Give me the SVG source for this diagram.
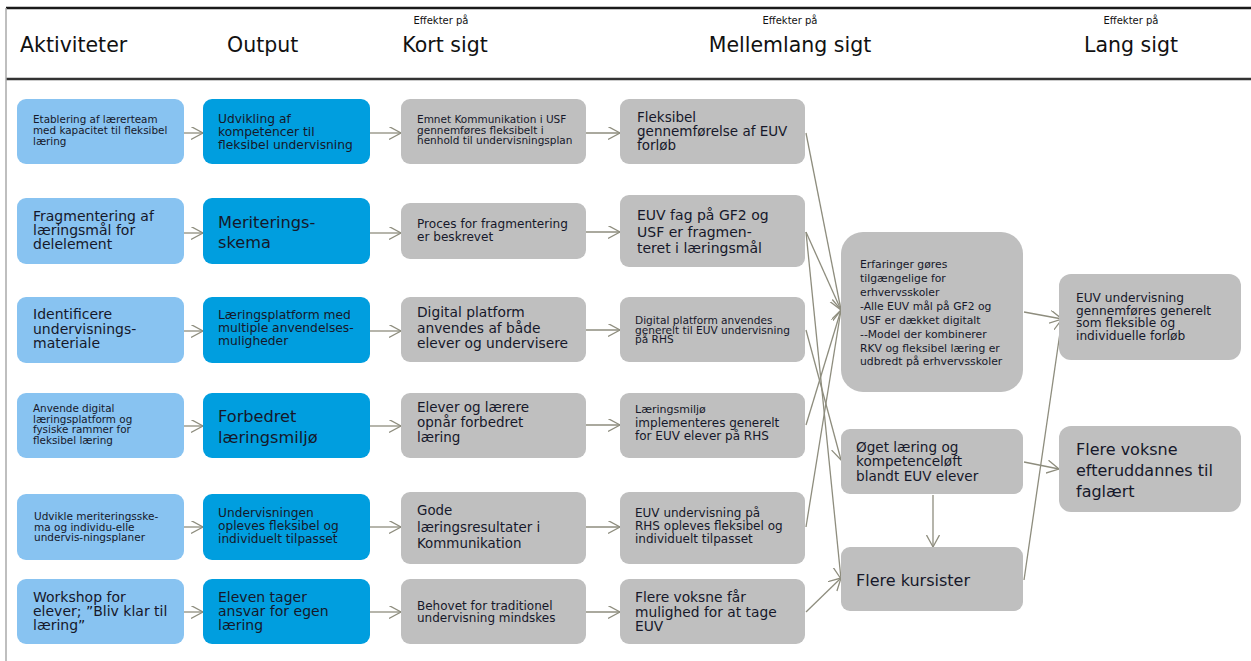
<svg xmlns="http://www.w3.org/2000/svg" width="1251" height="661" viewBox="0 0 1251 661">
<defs>
<style>
.t{font-family:"DejaVu Sans","Verdana",sans-serif;fill:#16182a}
.h{font-family:"DejaVu Sans","Verdana",sans-serif;fill:#111;font-size:20.5px}
.s{font-family:"DejaVu Sans","Verdana",sans-serif;fill:#111;font-size:10px}
.a{fill:#88c3f1}
.o{fill:#009edf}
.g{fill:#bfbfbf}
.c{fill:none;stroke:#8e8d7e;stroke-width:1.3;marker-end:url(#arr)}
</style>
<marker id="arr" markerWidth="14" markerHeight="14" refX="12" refY="6.5" orient="auto" markerUnits="userSpaceOnUse">
<path d="M0,0 L12,6.5 L0,13" fill="none" stroke="#8e8d7e" stroke-width="1.3"/>
</marker>
</defs>
<rect width="1251" height="661" fill="#fff"/>
<g id="header">
<line x1="6" y1="8" x2="1251" y2="8" stroke="#1a1a1a" stroke-width="2.5"/>
<line x1="6" y1="79" x2="1251" y2="79" stroke="#333" stroke-width="2.5"/>
<line x1="6" y1="8" x2="6" y2="661" stroke="#aaa" stroke-width="1.5"/>
<text class="h" x="20" y="52">Aktiviteter</text>
<text class="h" x="227" y="52">Output</text>
<text class="s" x="441" y="24" text-anchor="middle">Effekter på</text>
<text class="h" x="445" y="52" text-anchor="middle">Kort sigt</text>
<text class="s" x="790" y="24" text-anchor="middle">Effekter på</text>
<text class="h" x="790" y="52" text-anchor="middle">Mellemlang sigt</text>
<text class="s" x="1131" y="24" text-anchor="middle">Effekter på</text>
<text class="h" x="1131" y="52" text-anchor="middle">Lang sigt</text>
</g>
<g id="connectors">
<line class="c" x1="184" y1="133" x2="203" y2="133"/>
<line class="c" x1="184" y1="233" x2="203" y2="233"/>
<line class="c" x1="184" y1="331" x2="203" y2="331"/>
<line class="c" x1="184" y1="426" x2="203" y2="426"/>
<line class="c" x1="184" y1="527" x2="203" y2="527"/>
<line class="c" x1="184" y1="612" x2="203" y2="612"/>
<line class="c" x1="370" y1="133" x2="401" y2="133"/>
<line class="c" x1="370" y1="233" x2="401" y2="233"/>
<line class="c" x1="370" y1="331" x2="401" y2="331"/>
<line class="c" x1="370" y1="426" x2="401" y2="426"/>
<line class="c" x1="370" y1="527" x2="401" y2="527"/>
<line class="c" x1="370" y1="612" x2="401" y2="612"/>
<line class="c" x1="586" y1="133" x2="620" y2="133"/>
<line class="c" x1="586" y1="232" x2="620" y2="232"/>
<line class="c" x1="586" y1="330" x2="620" y2="330"/>
<line class="c" x1="586" y1="425" x2="620" y2="425"/>
<line class="c" x1="586" y1="527" x2="620" y2="527"/>
<line class="c" x1="586" y1="612" x2="620" y2="612"/>
<line class="c" x1="806" y1="133" x2="841" y2="310"/>
<line class="c" x1="806" y1="232" x2="841" y2="310"/>
<line class="c" x1="806" y1="232" x2="841" y2="579"/>
<line class="c" x1="806" y1="330" x2="841" y2="460"/>
<line class="c" x1="806" y1="425" x2="841" y2="310"/>
<line class="c" x1="806" y1="527" x2="841" y2="310"/>
<line class="c" x1="806" y1="612" x2="841" y2="578"/>
<line class="c" x1="1024" y1="312" x2="1062" y2="319"/>
<line class="c" x1="1024" y1="580" x2="1062" y2="319"/>
<line class="c" x1="1024" y1="462" x2="1059" y2="469"/>
<line class="c" x1="933" y1="495" x2="933" y2="547"/>
</g>
<g id="a1"><rect class="a" x="17" y="99" width="167" height="65" rx="9"/>
<text class="t" font-size="10.4"><tspan x="33" y="123">Etablering af lærerteam</tspan><tspan x="33" y="134">med kapacitet til fleksibel</tspan><tspan x="33" y="145">læring</tspan></text></g>
<g id="a2"><rect class="a" x="17" y="198" width="167" height="66" rx="9"/>
<text class="t" font-size="14"><tspan x="33" y="221">Fragmentering af</tspan><tspan x="33" y="235">læringsmål for</tspan><tspan x="33" y="249">delelement</tspan></text></g>
<g id="a3"><rect class="a" x="17" y="297" width="167" height="66" rx="9"/>
<text class="t" font-size="14"><tspan x="33" y="319">Identificere</tspan><tspan x="33" y="333.5">undervisnings-</tspan><tspan x="33" y="348">materiale</tspan></text></g>
<g id="a4"><rect class="a" x="17" y="393" width="167" height="65" rx="9"/>
<text class="t" font-size="10.4"><tspan x="33" y="412">Anvende digital</tspan><tspan x="33" y="422.5">læringsplatform og</tspan><tspan x="33" y="433">fysiske rammer for</tspan><tspan x="33" y="443.5">fleksibel læring</tspan></text></g>
<g id="a5"><rect class="a" x="17" y="494" width="167" height="66" rx="9"/>
<text class="t" font-size="10.5"><tspan x="34" y="520">Udvikle meriteringsske-</tspan><tspan x="34" y="530.5">ma og individu-elle</tspan><tspan x="34" y="541">undervis-ningsplaner</tspan></text></g>
<g id="a6"><rect class="a" x="17" y="579" width="167" height="65" rx="9"/>
<text class="t" font-size="14"><tspan x="33" y="602">Workshop for</tspan><tspan x="33" y="616">elever; ”Bliv klar til</tspan><tspan x="33" y="630">læring”</tspan></text></g>
<g id="o1"><rect class="o" x="203" y="99" width="167" height="65" rx="9"/>
<text class="t" font-size="12.3"><tspan x="218" y="123">Udvikling af</tspan><tspan x="218" y="136">kompetencer til</tspan><tspan x="218" y="149">fleksibel undervisning</tspan></text></g>
<g id="o2"><rect class="o" x="203" y="198" width="167" height="66" rx="9"/>
<text class="t" font-size="16.2"><tspan x="218" y="228">Meriterings-</tspan><tspan x="218" y="248">skema</tspan></text></g>
<g id="o3"><rect class="o" x="203" y="297" width="167" height="66" rx="9"/>
<text class="t" font-size="12.3"><tspan x="218" y="319">Læringsplatform med</tspan><tspan x="218" y="332">multiple anvendelses-</tspan><tspan x="218" y="345">muligheder</tspan></text></g>
<g id="o4"><rect class="o" x="203" y="393" width="167" height="65" rx="9"/>
<text class="t" font-size="16.2"><tspan x="218" y="422">Forbedret</tspan><tspan x="218" y="443">læringsmiljø</tspan></text></g>
<g id="o5"><rect class="o" x="203" y="494" width="167" height="66" rx="9"/>
<text class="t" font-size="12.2"><tspan x="218" y="517">Undervisningen</tspan><tspan x="218" y="530">opleves fleksibel og</tspan><tspan x="218" y="543">individuelt tilpasset</tspan></text></g>
<g id="o6"><rect class="o" x="203" y="579" width="167" height="65" rx="9"/>
<text class="t" font-size="14"><tspan x="218" y="602">Eleven tager</tspan><tspan x="218" y="616">ansvar for egen</tspan><tspan x="218" y="630">læring</tspan></text></g>
<g id="k1"><rect class="g" x="401" y="99" width="185" height="65" rx="9"/>
<text class="t" font-size="10.5"><tspan x="417" y="123">Emnet Kommunikation i USF</tspan><tspan x="417" y="133.5">gennemføres fleksibelt i</tspan><tspan x="417" y="144">henhold til undervisningsplan</tspan></text></g>
<g id="k2"><rect class="g" x="401" y="203" width="185" height="56" rx="9"/>
<text class="t" font-size="12.1"><tspan x="417" y="228">Proces for fragmentering</tspan><tspan x="417" y="241">er beskrevet</tspan></text></g>
<g id="k3"><rect class="g" x="401" y="297" width="185" height="65" rx="9"/>
<text class="t" font-size="13.8"><tspan x="417" y="317">Digital platform</tspan><tspan x="417" y="332.5">anvendes af både</tspan><tspan x="417" y="348">elever og undervisere</tspan></text></g>
<g id="k4"><rect class="g" x="401" y="393" width="185" height="65" rx="9"/>
<text class="t" font-size="13.5"><tspan x="417" y="412">Elever og lærere</tspan><tspan x="417" y="427">opnår forbedret</tspan><tspan x="417" y="442">læring</tspan></text></g>
<g id="k5"><rect class="g" x="401" y="492" width="185" height="72" rx="9"/>
<text class="t" font-size="13.4"><tspan x="417" y="515">Gode</tspan><tspan x="417" y="532">læringsresultater i</tspan><tspan x="417" y="548">Kommunikation</tspan></text></g>
<g id="k6"><rect class="g" x="401" y="579" width="185" height="65" rx="9"/>
<text class="t" font-size="12"><tspan x="417" y="610">Behovet for traditionel</tspan><tspan x="417" y="622">undervisning mindskes</tspan></text></g>
<g id="m1"><rect class="g" x="620" y="99" width="185" height="65" rx="9"/>
<text class="t" font-size="13.5"><tspan x="637" y="122">Fleksibel</tspan><tspan x="637" y="136">gennemførelse af EUV</tspan><tspan x="637" y="150">forløb</tspan></text></g>
<g id="m2"><rect class="g" x="620" y="195" width="185" height="72" rx="9"/>
<text class="t" font-size="14"><tspan x="637" y="220">EUV fag på GF2 og</tspan><tspan x="637" y="237">USF er fragmen-</tspan><tspan x="637" y="253">teret i læringsmål</tspan></text></g>
<g id="m3"><rect class="g" x="620" y="297" width="185" height="65" rx="9"/>
<text class="t" font-size="10.6"><tspan x="635" y="324">Digital platform anvendes</tspan><tspan x="635" y="333.5">generelt til EUV undervisning</tspan><tspan x="635" y="343">på RHS</tspan></text></g>
<g id="m4"><rect class="g" x="620" y="393" width="185" height="65" rx="9"/>
<text class="t" font-size="12"><tspan x="635" y="413" font-size="11">Læringsmiljø</tspan><tspan x="635" y="427">implementeres generelt</tspan><tspan x="635" y="440">for EUV elever på RHS</tspan></text></g>
<g id="m5"><rect class="g" x="620" y="492" width="185" height="72" rx="9"/>
<text class="t" font-size="12"><tspan x="635" y="517">EUV undervisning på</tspan><tspan x="635" y="530">RHS opleves fleksibel og</tspan><tspan x="635" y="543">individuelt tilpasset</tspan></text></g>
<g id="m6"><rect class="g" x="620" y="579" width="185" height="65" rx="9"/>
<text class="t" font-size="13.8"><tspan x="635" y="602">Flere voksne får</tspan><tspan x="635" y="617">mulighed for at tage</tspan><tspan x="635" y="631">EUV</tspan></text></g>
<g id="e1"><rect class="g" x="841" y="232" width="182" height="160" rx="22"/>
<text class="t" font-size="10.8"><tspan x="860" y="268">Erfaringer gøres</tspan><tspan x="860" y="282">tilgængelige for</tspan><tspan x="860" y="295.5">erhvervsskoler</tspan><tspan x="860" y="310">-Alle EUV mål på GF2 og</tspan><tspan x="860" y="323.5">USF er dækket digitalt</tspan><tspan x="860" y="337.5">--Model der kombinerer</tspan><tspan x="860" y="351.5">RKV og fleksibel læring er</tspan><tspan x="860" y="365">udbredt på erhvervsskoler</tspan></text></g>
<g id="e2"><rect class="g" x="841" y="429" width="182" height="65" rx="9"/>
<text class="t" font-size="13.6"><tspan x="856" y="452">Øget læring og</tspan><tspan x="856" y="466">kompetenceløft</tspan><tspan x="856" y="481">blandt EUV elever</tspan></text></g>
<g id="e3"><rect class="g" x="841" y="547" width="182" height="64" rx="9"/>
<text class="t" font-size="16"><tspan x="856" y="586">Flere kursister</tspan></text></g>
<g id="l1"><rect class="g" x="1059" y="274" width="182" height="86" rx="12"/>
<text class="t" font-size="12.2"><tspan x="1076" y="302">EUV undervisning</tspan><tspan x="1076" y="314.5">gennemføres generelt</tspan><tspan x="1076" y="327">som fleksible og</tspan><tspan x="1076" y="340">individuelle forløb</tspan></text></g>
<g id="l2"><rect class="g" x="1059" y="426" width="182" height="86" rx="12"/>
<text class="t" font-size="16"><tspan x="1076" y="455">Flere voksne</tspan><tspan x="1076" y="476">efteruddannes til</tspan><tspan x="1076" y="497">faglært</tspan></text></g>
</svg>
